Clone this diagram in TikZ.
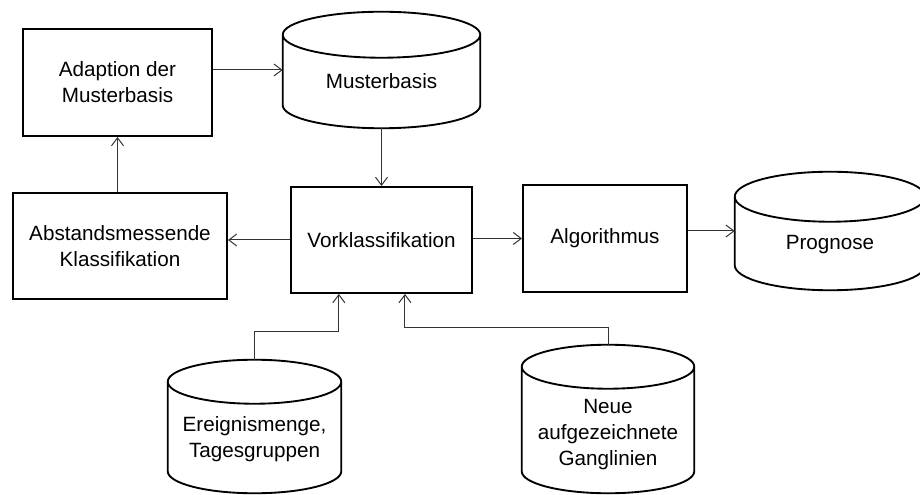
\documentclass[tikz,border=0pt]{standalone}
\usepackage{fontspec}
\setmainfont{Liberation Sans}
\usetikzlibrary{arrows.meta, calc}
% outline of a data cylinder drawn round node #1, end ellipse radius #2
\newcommand{\drum}[2]{%
  \draw[border] let \p1=(#1.north west), \p2=(#1.south east), \n1={(\x2-\x1)/2} in
    (\x1,\y1-#2) -- (\x1,\y2+#2)
    arc[start angle=180, end angle=360, x radius=\n1, y radius=#2]
    -- (\x2,\y1-#2)
    arc[start angle=0, end angle=180, x radius=\n1, y radius=#2]
    arc[start angle=180, end angle=360, x radius=\n1, y radius=#2];}

\begin{document}
\begin{tikzpicture}[x=0.75pt, y=0.75pt,
    every node/.style={font=\fontsize{15.5}{19.5}\selectfont},
    box/.style={draw, line width=1.4pt, align=center, inner sep=0pt},
    drum/.style={inner sep=0pt},
    border/.style={line width=1.4pt},
    ln/.style={-{Straight Barb[length=6pt, width=9pt]}, draw=black!80, line width=0.75pt}]
  \useasboundingbox (0,0) rectangle (920,-495);
  \clip (0,0) rectangle (920,-495);
  % processing steps
  \node[box, minimum width=141.75pt, minimum height=80.25pt] (adapt) at (117.5,-82.5) {Adaption der\\Musterbasis};
  \node[box, minimum width=160.5pt, minimum height=79.5pt] (abst) at (120,-246) {Abstandsmessende\\Klassifikation};
  \node[box, minimum width=135.75pt, minimum height=79.5pt] (vork) at (381.5,-240) {Vorklassifikation};
  \node[box, minimum width=123pt, minimum height=80.25pt] (algo) at (605,-238.5) {Algorithmus};
  % data stores
  \node[drum, minimum width=147.75pt, minimum height=87pt,
        label={[yshift=-8.6pt]center:Musterbasis}] (muster) at (381.5,-70) {};
  \node[drum, minimum width=142.5pt, minimum height=88.5pt,
        label={[yshift=-10.5pt]center:Prognose}] (progn) at (830,-231) {};
  \node[drum, minimum width=129.75pt, minimum height=99.75pt,
        label={[align=center, yshift=-9.4pt]center:{Ereignismenge,\\Tagesgruppen}}] (ereig) at (254.5,-426.5) {};
  \node[drum, minimum width=129pt, minimum height=111pt,
        label={[align=center, yshift=-11.8pt]center:{Neue\\aufgezeichnete\\Ganglinien}}] (neue) at (608,-419) {};
  \drum{muster}{17.25pt}
  \drum{progn}{18.75pt}
  \drum{ereig}{16.5pt}
  \drum{neue}{16.5pt}
  % connectors
  \draw[ln] (adapt.east |- muster.west) -- (muster.west);
  \draw[ln] (muster.south) -- (vork.north);
  \draw[ln] (vork.west) -- (vork.west -| abst.east);
  \draw[ln] (adapt.south |- abst.north) -- (adapt.south);
  \draw[ln] (vork.east |- algo.west) -- (algo.west);
  \draw[ln] (algo.east |- progn.west) -- (progn.west);
  \draw[ln] (ereig.north) -- ++(0,28) -| ([xshift=-32pt]vork.south);
  \draw[ln] (neue.north) -- ++(0,17) -| ([xshift=17.6pt]vork.south);
\end{tikzpicture}
\end{document}
